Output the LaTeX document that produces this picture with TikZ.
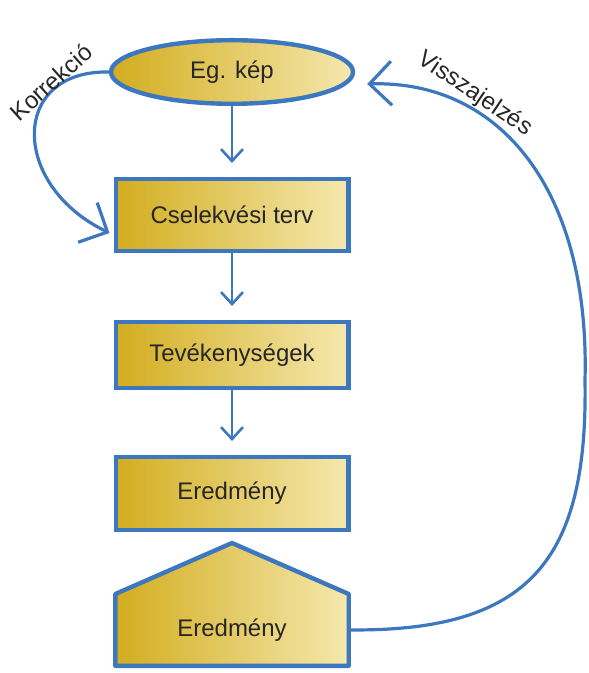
\documentclass[tikz,border=0pt]{standalone}
\usepackage{fontspec}
\setmainfont{Liberation Sans}
\usetikzlibrary{shapes,arrows.meta,positioning,calc,backgrounds}

\definecolor{penblue}{HTML}{3D78BF}
\definecolor{darkgold}{HTML}{D3AD1F}
\definecolor{palegold}{HTML}{F5E8AE}

\begin{document}
\begin{tikzpicture}[
    x=0.5pt, y=-0.5pt,
    node distance=33.5pt,
    box/.style={rectangle, draw=penblue, line width=2.2pt, minimum width=116.3pt,
                minimum height=36pt, font=\fontsize{12}{14}\selectfont,
                left color=darkgold, right color=palegold, text=black!85},
    oval/.style={box, ellipse, minimum width=121pt, minimum height=31.8pt},
    housebox/.style={draw=penblue, line width=2.2pt, line join=round,
                     left color=darkgold, right color=palegold},
    lbl/.style={font=\fontsize{12}{14}\selectfont, text=black!85},
    darr/.style={-{Straight Barb[length=6pt,width=11pt]}, line width=1.3pt,
                 draw=penblue, shorten >=7pt},
    arr/.style={-{Straight Barb[length=11pt,width=22pt]}, line width=1.6pt,
                draw=penblue}
]
\useasboundingbox (0,0) rectangle (588,673);

%% main column
\node[oval] (eg) at (232,72)                          {Eg. kép};
\node[box, below=35.5pt of eg, minimum height=35.8pt] (terv)  {Cselekvési terv};
\node[box, below=of terv, minimum height=32.8pt]      (tev)   {Tevékenységek};
\node[box, below=32.5pt of tev, minimum height=36.3pt] (ered) {Eredmény};
\node[lbl, below=31pt of ered, minimum width=116.3pt,
      minimum height=35.5pt]                          (ered2) {Eredmény};

\begin{pgfonlayer}{background}
  \path[housebox] (ered2.south west) -- (ered2.north west)
      -- ($(ered2.north)+(0,-51)$) -- (ered2.north east)
      -- (ered2.south east) -- cycle;
\end{pgfonlayer}

%% down arrows
\draw[darr] (eg)   -- (terv);
\draw[darr] (terv) -- (tev);
\draw[darr] (tev)  -- (ered);

%% loops
\draw[arr] (eg.west) .. controls (10,70) and (10,185)
    .. ([xshift=-2pt,yshift=-9pt]terv.west);
\draw[arr] (ered2.east) .. controls (530,632) and (588,560) .. (585,380)
    .. controls (590,190) and (500,80) .. ([xshift=6pt,yshift=-6pt]eg.east);

\node[lbl, rotate=42]  (korr) at (51,82)  {Korrekció};
\node[lbl, rotate=-34] (visz) at (475,94) {Visszajelzés};

\end{tikzpicture}
\end{document}
